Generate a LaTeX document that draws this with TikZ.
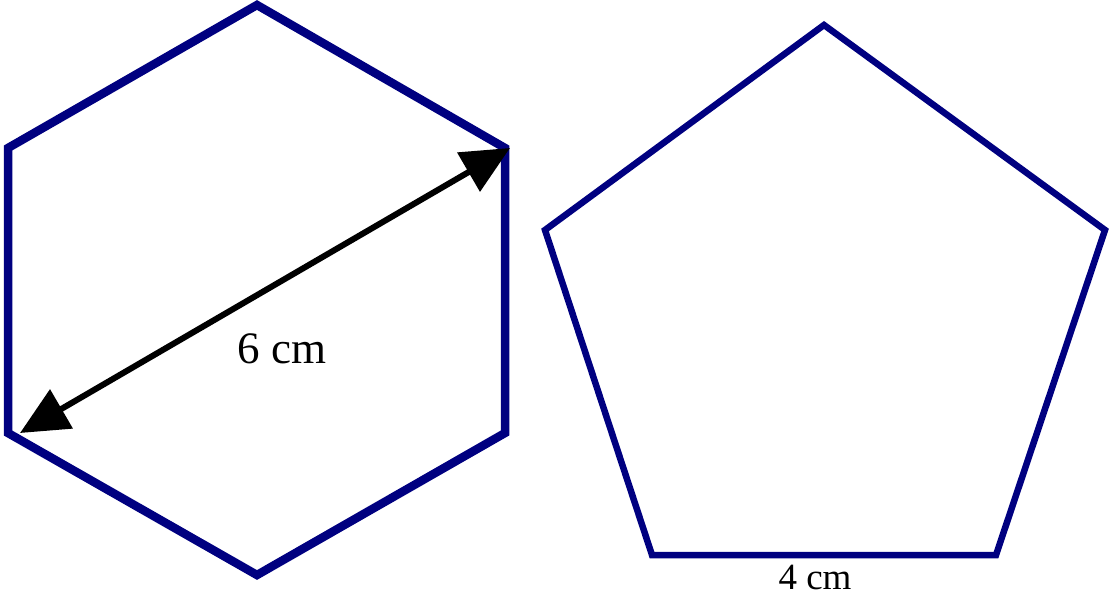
\documentclass[tikz,border=0pt]{standalone}
\usepackage{fontspec}
\setmainfont{Liberation Serif}
\usetikzlibrary{arrows.meta}
\definecolor{navyline}{RGB}{0,0,128}
\begin{document}
\begin{tikzpicture}[x=1pt,y=-1pt,
  hexline/.style={draw=navyline,line width=8.5pt,line join=miter},
  pentline/.style={draw=navyline,line width=6.5pt,line join=miter},
  dimarrow/.style={draw=black,line width=6pt,{Triangle[length=48pt,width=44pt]}-{Triangle[length=48pt,width=44pt]}},
  lbl/.style={inner sep=0pt,text=black}]
\useasboundingbox (0,0) rectangle (1110,600);
% hexagon
\coordinate (h1) at (257,5);
\coordinate (h2) at (505,148);
\coordinate (h3) at (505,433);
\coordinate (h4) at (257,575);
\coordinate (h5) at (8,433);
\coordinate (h6) at (8,148);
\draw[hexline] (h1) -- (h2) -- (h3) -- (h4) -- (h5) -- (h6) -- cycle;
% pentagon
\coordinate (p1) at (824,25);
\coordinate (p2) at (1105,230);
\coordinate (p3) at (996,555);
\coordinate (p4) at (652,555);
\coordinate (p5) at (545,230);
\draw[pentline] (p1) -- (p2) -- (p3) -- (p4) -- (p5) -- cycle;
% dimension arrow
\coordinate (a1) at (510,148);
\coordinate (a2) at (20,433);
\draw[dimarrow] (a2) -- (a1);
\node[lbl,font=\fontsize{45}{45}\selectfont] (l6) at (282,349) {6 cm};
\node[lbl,font=\fontsize{37}{37}\selectfont] (l4) at (815,577) {4 cm};
\end{tikzpicture}
\end{document}
